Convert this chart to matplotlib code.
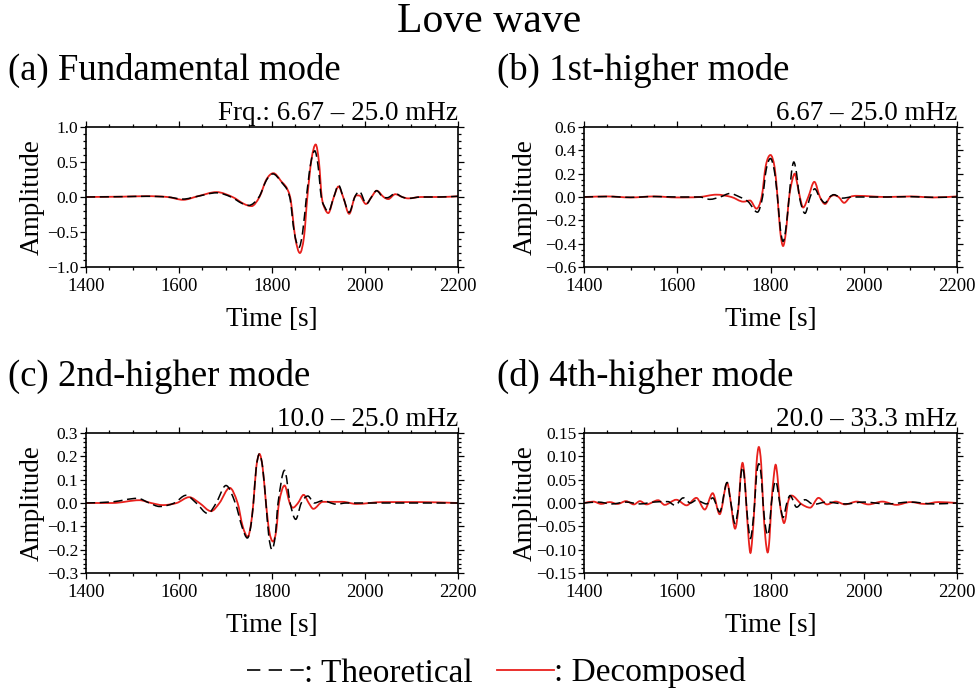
import matplotlib
matplotlib.use("Agg")
import matplotlib.pyplot as plt
from matplotlib.lines import Line2D
from matplotlib.path import Path
from matplotlib.patches import PathPatch
from matplotlib.ticker import MultipleLocator, FuncFormatter

plt.rcParams["font.family"] = ["Liberation Serif", "DejaVu Serif"]

# ---- data (time in s, amplitude) ----
a_t_th = [1400, 1480, 1530, 1575, 1609, 1640, 1681, 1712, 1735, 1750, 1772, 1788, 1802, 1818, 1838,
          1848, 1858, 1866, 1874, 1883, 1892, 1899, 1906, 1914, 1921, 1933, 1943, 1953, 1966, 1978,
          1988, 2003, 2014, 2025, 2038, 2048, 2065, 2080, 2093, 2120, 2160, 2200]
a_v_th = [0.0, 0.005, 0.01, 0.0, -0.03, 0.01, 0.06, 0.0, -0.09, -0.12, 0.0, 0.24, 0.33, 0.23, 0.0,
          -0.51, -0.72, -0.50, 0.0, 0.47, 0.66, 0.45, 0.0, -0.15, -0.21, 0.0, 0.17, 0.0, -0.22, 0.0,
          0.08, -0.10, 0.0, 0.09, 0.0, -0.01, 0.05, 0.0, -0.02, 0.0, 0.0, 0.01]
a_t_dc = [1400, 1480, 1530, 1575, 1609, 1640, 1681, 1715, 1740, 1756, 1773, 1788, 1803, 1818, 1839,
          1850, 1860, 1869, 1876, 1885, 1894, 1901, 1907, 1914, 1921, 1933, 1943, 1953, 1966, 1978,
          1988, 2002, 2014, 2025, 2040, 2050, 2065, 2080, 2093, 2120, 2160, 2200]
a_v_dc = [0.0, 0.005, 0.012, 0.0, -0.04, 0.01, 0.07, 0.0, -0.10, -0.13, 0.0, 0.25, 0.34, 0.24, 0.0,
          -0.58, -0.80, -0.56, 0.0, 0.54, 0.75, 0.50, 0.0, -0.17, -0.23, 0.0, 0.15, 0.0, -0.24, 0.0,
          0.02, -0.10, 0.0, 0.09, 0.0, -0.03, 0.04, 0.0, -0.02, 0.0, 0.0, 0.01]

b_t_th = [1400, 1450, 1500, 1550, 1600, 1648, 1670, 1692, 1713, 1734, 1752, 1772, 1783, 1791, 1800,
          1808, 1815, 1821, 1827, 1833, 1840, 1845, 1850, 1856, 1862, 1874, 1885, 1895, 1905, 1917,
          1927, 1936, 1953, 1975, 2050, 2100, 2150, 2200]
b_v_th = [0.0, 0.004, -0.003, 0.004, 0.0, 0.0, -0.02, 0.0, 0.03, 0.0, -0.04, -0.13, 0.0, 0.24, 0.33,
          0.23, 0.0, -0.27, -0.38, -0.27, 0.0, 0.21, 0.30, 0.20, 0.0, -0.14, 0.0, 0.07, 0.0, -0.05,
          0.0, 0.02, -0.01, 0.0, 0.0, 0.003, -0.003, 0.0]
b_t_dc = [1400, 1450, 1500, 1550, 1600, 1648, 1684, 1716, 1742, 1756, 1770, 1781, 1790, 1800, 1809,
          1815, 1821, 1827, 1833, 1840, 1847, 1852, 1857, 1863, 1870, 1881, 1894, 1906, 1917, 1928,
          1936, 1946, 1958, 1971, 1985, 2050, 2100, 2150, 2200]
b_v_dc = [0.0, 0.005, -0.004, 0.005, -0.004, 0.0, 0.02, 0.0, -0.04, -0.03, -0.10, 0.0, 0.27, 0.36, 0.25,
          0.0, -0.30, -0.42, -0.30, 0.0, 0.15, 0.20, 0.12, 0.0, -0.09, 0.0, 0.13, 0.0, -0.06, 0.0,
          0.015, 0.0, -0.05, 0.0, 0.01, 0.0, 0.005, -0.004, 0.005]

c_t_th = [1400, 1457, 1511, 1536, 1558, 1590, 1615, 1637, 1662, 1680, 1701, 1721, 1736, 1747, 1754,
          1760, 1766, 1773, 1780, 1787, 1793, 1800, 1807, 1813, 1827, 1839, 1851, 1863, 1877, 1891,
          1909, 1938, 1960, 2200]
c_v_th = [0.0, 0.005, 0.02, 0.0, -0.015, 0.0, 0.033, 0.0, -0.045, 0.0, 0.075, 0.0, -0.105, -0.15, -0.105,
          0.0, 0.15, 0.21, 0.15, 0.0, -0.14, -0.20, -0.14, 0.0, 0.14, 0.0, -0.07, 0.0, 0.03, 0.0,
          0.01, -0.005, 0.0, 0.0]
c_t_dc = [1400, 1457, 1515, 1540, 1565, 1595, 1622, 1644, 1669, 1687, 1709, 1726, 1737, 1748, 1754,
          1760, 1766, 1773, 1780, 1787, 1794, 1802, 1809, 1815, 1827, 1838, 1845, 1856, 1868, 1879,
          1889, 1909, 1952, 1981, 2039, 2117, 2200]
c_v_dc = [0.0, 0.0, 0.012, 0.0, -0.009, 0.0, 0.025, 0.0, -0.035, 0.0, 0.065, 0.0, -0.10, -0.145, -0.10,
          0.0, 0.15, 0.21, 0.15, 0.0, -0.12, -0.165, -0.12, 0.0, 0.075, 0.0, -0.02, 0.0, 0.035, 0.0,
          -0.025, 0.005, 0.005, -0.004, 0.004, 0.004, 0.0]

d_t_th = [1400, 1430, 1460, 1490, 1520, 1550, 1580, 1595, 1613, 1628, 1641, 1663, 1676, 1691, 1707,
          1715, 1724, 1732, 1736, 1740, 1744, 1748, 1753, 1757, 1761, 1766, 1770, 1775, 1780, 1784,
          1789, 1794, 1798, 1802, 1811, 1820, 1827, 1835, 1842, 1856, 1874, 1892, 1920, 1960, 2000,
          2050, 2100, 2150, 2200]
d_v_th = [0.0, 0.002, -0.002, 0.002, -0.002, 0.002, 0.003, -0.005, 0.011, 0.0, 0.006, -0.002, 0.011,
          -0.019, 0.044, 0.0, -0.044, 0.0, 0.054, 0.077, 0.054, 0.0, -0.054, -0.076, -0.054, 0.0,
          0.059, 0.084, 0.059, 0.0, -0.049, -0.069, -0.049, 0.0, 0.047, 0.0, -0.031, 0.0, 0.016,
          -0.009, 0.007, -0.003, 0.002, -0.002, 0.002, -0.002, 0.002, -0.002, 0.0]
d_t_dc = [1400, 1420, 1437, 1455, 1472, 1490, 1507, 1520, 1534, 1559, 1573, 1598, 1620, 1641, 1659,
          1676, 1691, 1707, 1715, 1720, 1724, 1728, 1732, 1736, 1740, 1744, 1748, 1753, 1757, 1761,
          1766, 1770, 1775, 1780, 1784, 1789, 1794, 1798, 1802, 1807, 1811, 1815, 1820, 1825, 1829,
          1833, 1837, 1845, 1866, 1885, 1903, 1921, 1940, 1960, 1985, 2010, 2040, 2070, 2100, 2130,
          2160, 2200]
d_v_dc = [0.0, 0.003, -0.002, 0.002, -0.002, 0.004, -0.003, 0.004, -0.003, 0.006, -0.004, 0.007, -0.005,
          0.011, -0.014, 0.021, -0.024, 0.043, 0.0, -0.039, -0.055, -0.039, 0.0, 0.06, 0.086, 0.06,
          0.0, -0.075, -0.107, -0.075, 0.0, 0.084, 0.12, 0.084, 0.0, -0.074, -0.106, -0.074, 0.0,
          0.057, 0.082, 0.057, 0.0, -0.03, -0.043, -0.03, 0.0, 0.016, -0.002, -0.01, 0.011, -0.003,
          0.003, -0.003, 0.003, -0.003, 0.003, -0.004, 0.002, -0.002, 0.002, 0.0]

titles = ["(a) Fundamental mode", "(b) 1st-higher mode", "(c) 2nd-higher mode", "(d) 4th-higher mode"]
bands = ["Frq.: 6.67 \u2013 25.0 mHz", "6.67 \u2013 25.0 mHz", "10.0 \u2013 25.0 mHz", "20.0 \u2013 33.3 mHz"]
ylims = [1.0, 0.6, 0.3, 0.15]
ymajor = [0.5, 0.2, 0.1, 0.05]
yminor = [0.1, 0.05, 0.02, 0.01]
ydigits = [1, 1, 1, 2]
series = [(a_t_th, a_v_th, a_t_dc, a_v_dc), (b_t_th, b_v_th, b_t_dc, b_v_dc),
          (c_t_th, c_v_th, c_t_dc, c_v_dc), (d_t_th, d_v_th, d_t_dc, d_v_dc)]

RED = "#e8201c"
W, H = 979, 695


def smooth_path(t, v):
    # monotone-x cubic through the read points (flat tangent at extrema)
    n = len(t)
    m = []
    for i in range(n):
        if i == 0:
            m.append((v[1] - v[0]) / (t[1] - t[0]))
        elif i == n - 1:
            m.append((v[-1] - v[-2]) / (t[-1] - t[-2]))
        else:
            s0 = (v[i] - v[i - 1]) / (t[i] - t[i - 1])
            s1 = (v[i + 1] - v[i]) / (t[i + 1] - t[i])
            m.append(0.0 if s0 * s1 <= 0 else (v[i + 1] - v[i - 1]) / (t[i + 1] - t[i - 1]))
    verts, codes = [(t[0], v[0])], [Path.MOVETO]
    for i in range(n - 1):
        h = t[i + 1] - t[i]
        verts += [(t[i] + h / 3, v[i] + m[i] * h / 3),
                  (t[i + 1] - h / 3, v[i + 1] - m[i + 1] * h / 3),
                  (t[i + 1], v[i + 1])]
        codes += [Path.CURVE4] * 3
    return Path(verts, codes)


fig = plt.figure(figsize=(W / 100, H / 100), dpi=100)

# axes boxes in pixels: left, top, right, bottom
boxes = [(86, 127, 458, 267), (584, 127, 957, 267), (86, 433, 458, 573), (584, 433, 957, 573)]

fig.text(0.5, 1 - 32 / H, "Love wave", ha="center", va="baseline", fontsize=30)

for i, (l, t, r, b) in enumerate(boxes):
    ax = fig.add_axes([l / W, 1 - b / H, (r - l) / W, (b - t) / H])
    tt, vt, td, vd = series[i]
    ax.add_patch(PathPatch(smooth_path(td, vd), fill=False, edgecolor=RED, lw=1.3, zorder=2))
    ax.add_patch(PathPatch(smooth_path(tt, vt), fill=False, edgecolor="black", lw=1.1,
                           linestyle=(0, (6, 3)), zorder=3))
    ax.set_xlim(1400, 2200)
    ax.set_ylim(-ylims[i], ylims[i])
    ax.xaxis.set_major_locator(MultipleLocator(200))
    ax.xaxis.set_minor_locator(MultipleLocator(50))
    ax.yaxis.set_major_locator(MultipleLocator(ymajor[i]))
    ax.yaxis.set_minor_locator(MultipleLocator(yminor[i]))
    nd = ydigits[i]
    ax.yaxis.set_major_formatter(FuncFormatter(
        lambda v, p, nd=nd: f"{0.0 if abs(v) < 1e-9 else v:.{nd}f}".replace("-", "\u2212")))
    ax.tick_params(which="both", direction="out", top=True, right=True, width=0.9)
    ax.tick_params(axis="x", labelsize=13.5, pad=4)
    ax.tick_params(axis="y", labelsize=12.5, pad=1.5)
    ax.tick_params(which="major", length=4)
    ax.tick_params(which="minor", length=2)
    for s in ax.spines.values():
        s.set_linewidth(1.2)
    ax.set_xlabel("Time [s]", fontsize=19.5)
    ax.xaxis.label.set_va("baseline")
    ax.xaxis.set_label_coords(0.5, -(326 - 267) / 140)
    ax.set_ylabel("Amplitude", fontsize=19.5)
    ax.yaxis.set_label_coords(-0.112 if i % 2 == 0 else -0.124, 0.5)
    ax.text(1.0, 1 + 7 / 140, bands[i], transform=ax.transAxes, ha="right", va="baseline",
            fontsize=19.5)
    title_x = 8 if i % 2 == 0 else 497
    fig.text(title_x / W, 1 - (t - 47) / H, titles[i], ha="left", va="baseline", fontsize=26.5)

handles = [Line2D([], [], color="black", lw=1.2, dashes=(8, 5)),
           Line2D([], [], color=RED, lw=1.3)]
fig.legend(handles, [": Theoretical", ": Decomposed"], loc="center", ncol=2,
           bbox_to_anchor=(0.507, 1 - 673 / H), frameon=False, fontsize=24,
           handlelength=1.7, handletextpad=0.0, columnspacing=0.75)

fig.savefig("out.png", dpi=100)
